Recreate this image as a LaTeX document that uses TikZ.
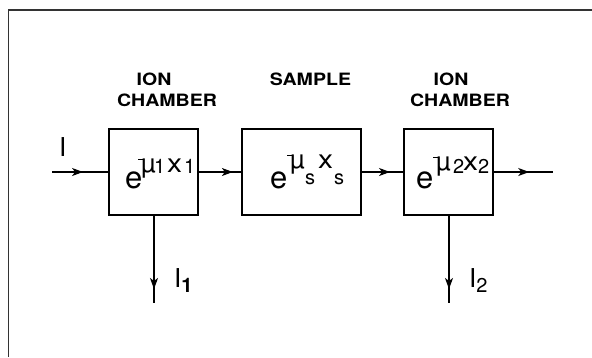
\documentclass[tikz,border=0pt]{standalone}
\usepackage{fontspec}
\setmainfont{TeX Gyre Heros}
\usetikzlibrary{arrows.meta,decorations.markings}

\newcommand{\supsize}{\fontsize{26}{26}\selectfont}
\newcommand{\subsize}{\fontsize{20}{20}\selectfont}
% e^{-mu x}: #1 index, #2 raise, #3 drop of index, #4-#7 advances of e, mu, index, x
\newcommand{\atten}[7]{\makebox[#4][l]{\fontsize{31}{31}\selectfont e}\raisebox{#2}{\supsize\makebox[3pt][l]{\raisebox{12pt}{\rule{4.5pt}{1.4pt}}}\makebox[#5][l]{µ}\makebox[#6][l]{\raisebox{-#3}{\subsize #1}}\makebox[#7][l]{\scalebox{1.15}[1]{x}}\raisebox{-#3}{\subsize #1}}}

\tikzset{
  chamber/.style={draw, line width=1.1pt, minimum height=86, inner sep=0pt},
  caption/.style={anchor=base, inner sep=0.75pt, font=\fontsize{17}{17}\selectfont\bfseries, xscale=1.15},
  midarrow/.style={line width=1.1pt, postaction={decorate},
    decoration={markings, mark=at position #1 with {\arrow{Stealth[length=11pt,width=8pt,inset=3pt]}}}}
}

\begin{document}
\begin{tikzpicture}[x=1pt,y=1pt,yscale=-1]
\useasboundingbox (0,0) rectangle (592,357);

%Frame
\draw [line width=1.4pt, color=black!80]    (8.5,357) -- (8.5,10) -- (592,10) ;

%Shape: Rectangle
\node [chamber, minimum width=89] (ch1) at (153.5,172) {};
%Shape: Rectangle
\node [chamber, minimum width=119] (smp) at (301.5,172) {};
%Shape: Rectangle
\node [chamber, minimum width=89] (ch2) at (448.5,172) {};

% Text Node
\node [anchor=base west, inner sep=0pt] (ex1) at (125,188) {\atten{1}{16pt}{1pt}{13pt}{13pt}{13pt}{17pt}};
% Text Node
\node [anchor=base west, inner sep=0pt] (exs) at (270,188) {\atten{s}{20pt}{16pt}{17pt}{15pt}{13pt}{16pt}};
% Text Node
\node [anchor=base west, inner sep=0pt] (ex2) at (416,188) {\atten{2}{18pt}{3pt}{17pt}{17pt}{10pt}{15pt}};

% Text Node
\node [caption] (ion1) at (154,85) {ION};
% Text Node
\node [caption] (cmb1) at (167,106) {CHAMBER};
% Text Node
\node [caption] (smpl) at (310.5,85) {SAMPLE};
% Text Node
\node [caption] (ion2) at (451,85) {ION};
% Text Node
\node [caption] (cmb2) at (460,106) {CHAMBER};

\coordinate (in) at (52,172);
\coordinate (out) at (553,172);
\coordinate (d1) at (154,303);
\coordinate (d2) at (449,303);

%Straight Lines
\draw [midarrow=0.55]    (in) -- (ch1.west) ;
%Straight Lines
\draw [midarrow=0.8]    (ch1.east) -- (smp.west) ;
%Straight Lines
\draw [midarrow=0.68]    (smp.east) -- (ch2.west) ;
%Straight Lines
\draw [midarrow=0.6]    (ch2.east) -- (out) ;
%Straight Lines
\draw [midarrow=0.84]    (ch1.south -| d1) -- (d1) ;
%Straight Lines
\draw [midarrow=0.84]    (ch2.south -| d2) -- (d2) ;

% Text Node
\node [anchor=base west, inner sep=0pt, font=\fontsize{26}{26}\selectfont] (lin) at (59,156) {I};
% Text Node
\node [anchor=base west, inner sep=0pt, font=\fontsize{26}{26}\selectfont] (lo1) at (174,287) {I\raisebox{-5pt}{\fontsize{20}{20}\selectfont\bfseries 1}};
% Text Node
\node [anchor=base west, inner sep=0pt, font=\fontsize{26}{26}\selectfont] (lo2) at (469,287) {I\raisebox{-5pt}{\fontsize{20}{20}\selectfont 2}};

\end{tikzpicture}
\end{document}
